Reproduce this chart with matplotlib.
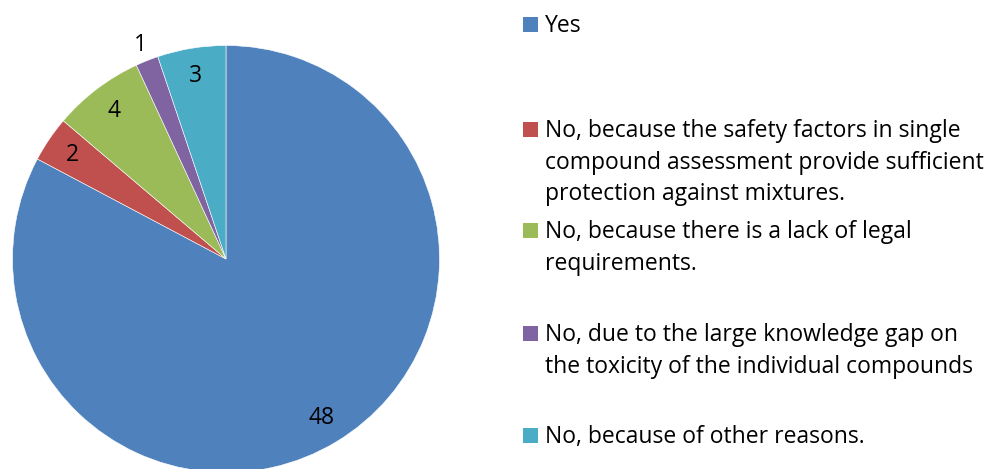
import numpy as np
import matplotlib
matplotlib.use("Agg")
import matplotlib.pyplot as plt
from matplotlib.patches import Rectangle

categories = [
    "Yes",
    "No, because the safety factors in single\ncompound assessment provide sufficient\nprotection against mixtures.",
    "No, because there is a lack of legal\nrequirements.",
    "No, due to the large knowledge gap on\nthe toxicity of the individual compounds",
    "No, because of other reasons.",
]
values = [48, 2, 4, 1, 3]
colors = ["#4F81BD", "#C0504D", "#9BBB59", "#8064A2", "#4BACC6"]

plt.rcParams['font.family'] = ['Open Sans', 'DejaVu Sans']

W, H = 992, 469
fig = plt.figure(figsize=(W / 100, H / 100), dpi=100)
fig.patch.set_facecolor("white")

# pie axes: centre (226, 259) px from top, radius 213.5 px
cx, cy, r = 226, 259, 213.5
ax = fig.add_axes([(cx - r) / W, (H - cy - r) / H, 2 * r / W, 2 * r / H])
ax.axis("off")

wedges, _ = ax.pie(values, colors=colors, startangle=90, counterclock=False,
                   radius=1, wedgeprops=dict(edgecolor="white", linewidth=0.4),
                   normalize=True)
ax.set_xlim(-1, 1)
ax.set_ylim(-1, 1)
ax.set_aspect("equal")
for w in wedges:
    w.set_clip_on(False)

for w, v in zip(wedges, values):
    ang = np.deg2rad((w.theta1 + w.theta2) / 2)
    d = 1.08 if v == 1 else 0.87
    ax.text(d * np.cos(ang), d * np.sin(ang), str(v), ha="center", va="center",
            fontsize=16.5, color="black", clip_on=False)

# legend
first_baselines = [32, 137, 238, 341, 443]
line_step = 31.7
sq = 15
for cat, col, b in zip(categories, colors, first_baselines):
    fig.patches.append(Rectangle((523 / W, (H - b) / H), sq / W, sq / H,
                                 transform=fig.transFigure, facecolor=col,
                                 edgecolor="none"))
    for i, line in enumerate(cat.split("\n")):
        y = b + i * line_step
        fig.text(545 / W, (H - y) / H, line, ha="left", va="baseline",
                 fontsize=16.5, color="black")

fig.savefig("out.png", dpi=100, facecolor="white")
